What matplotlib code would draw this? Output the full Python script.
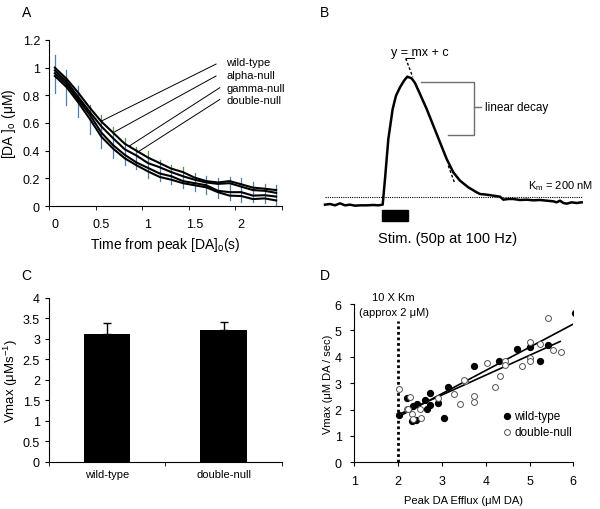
import numpy as np
import matplotlib
matplotlib.use("Agg")
import matplotlib.pyplot as plt
from matplotlib.patches import Rectangle

plt.rcParams['font.family'] = ['Liberation Sans', 'DejaVu Sans']
plt.rcParams['font.size'] = 9
plt.rcParams['mathtext.default'] = 'regular'

# ---- panel A: decay curves ----
time_a = np.arange(20) * 0.125
wild_type_a = [1.0, 0.92, 0.82, 0.71, 0.61, 0.53, 0.45, 0.40, 0.35, 0.31, 0.27, 0.245, 0.205, 0.18, 0.17, 0.18, 0.157, 0.133, 0.125, 0.115]
alpha_null_a = [0.98, 0.90, 0.79, 0.68, 0.575, 0.49, 0.41, 0.365, 0.31, 0.28, 0.245, 0.215, 0.19, 0.17, 0.16, 0.165, 0.14, 0.115, 0.11, 0.095]
gamma_null_a = [0.96, 0.88, 0.77, 0.66, 0.53, 0.44, 0.37, 0.315, 0.275, 0.235, 0.215, 0.18, 0.165, 0.15, 0.11, 0.10, 0.10, 0.075, 0.078, 0.068]
double_null_a = [0.94, 0.86, 0.75, 0.63, 0.50, 0.415, 0.345, 0.295, 0.25, 0.21, 0.19, 0.165, 0.15, 0.135, 0.10, 0.075, 0.072, 0.05, 0.055, 0.04]
err_hi_a = [1.09, 0.98, 0.87, 0.73, 0.66, 0.57, 0.49, 0.43, 0.40, 0.33, 0.30, 0.28, 0.24, 0.22, 0.20, 0.21, 0.20, 0.17, 0.16, 0.15]
err_lo_a = [0.82, 0.73, 0.64, 0.52, 0.42, 0.35, 0.30, 0.27, 0.20, 0.18, 0.16, 0.13, 0.11, 0.09, 0.06, 0.04, 0.03, 0.03, 0.02, 0.0]
names_a = ["wild-type", "alpha-null", "gamma-null", "double-null"]
label_xy_a = [(1.84, 1.043), (1.84, 0.947), (1.84, 0.85), (1.84, 0.766)]
leader_from_a = [(1.73, 1.026), (1.73, 0.94), (1.77, 0.855), (1.77, 0.77)]
leader_to_a = [(0.5, 0.614), (0.625, 0.53), (0.80, 0.434), (0.89, 0.39)]

# ---- panel B: schematic trace ----
trace_x = np.array([75, 90, 105, 120, 135, 150, 165, 180, 200, 220, 235, 248, 255, 265, 278, 288, 300, 312, 322, 335,
                    345, 360, 380, 400, 420, 440, 460, 480, 505, 530, 540, 560, 580, 600, 610, 625, 640, 660, 680, 700,
                    720, 740, 760, 770, 780, 790, 800, 815, 830, 845]) / 3 + 300
trace_y = np.array([617, 615, 619, 613, 619, 617, 620, 619, 619, 618, 619, 617, 540, 420, 330, 290, 265, 245, 233, 238,
                    252, 285, 330, 380, 430, 480, 520, 545, 565, 580, 585, 587, 590, 593, 602, 600, 600, 603, 602, 604,
                    603, 605, 607, 610, 605, 612, 614, 610, 612, 610]) / 3
km_level = 197.7
fit_x = [405.7, 455.0]
fit_y = [59.3, 185.0]

# ---- panel C: bars ----
groups_c = ["wild-type", "double-null"]
vmax_c = [3.12, 3.22]
vmax_err_c = [0.26, 0.2]

# ---- panel D: scatter ----
wt_x = [2.02, 2.21, 2.33, 2.43, 2.31, 2.62, 2.73, 2.73, 2.67, 2.92, 3.13, 3.04, 2.40,
        3.73, 4.31, 4.72, 5.02, 5.24, 5.43, 6.03]
wt_y = [1.80, 2.45, 2.14, 2.20, 1.55, 2.37, 2.61, 2.17, 2.02, 2.23, 2.86, 1.68, 1.62,
        3.64, 3.83, 4.29, 4.36, 3.83, 4.45, 5.66]
dn_x = [2.03, 2.28, 2.20, 2.31, 2.35, 2.53, 2.50, 2.90, 3.27, 3.42, 3.53, 3.51, 4.02, 4.43, 4.43,
        4.32, 4.22, 3.73, 3.73, 4.83, 5.02, 5.02, 5.02, 5.23, 5.43, 5.53, 5.71, 2.22]
dn_y = [2.78, 2.49, 2.02, 1.83, 1.64, 1.69, 2.02, 2.45, 2.59, 2.20, 3.09, 3.12, 3.76, 3.84, 3.69,
        3.27, 2.86, 2.50, 2.30, 3.64, 4.57, 3.95, 3.83, 4.50, 5.47, 4.26, 4.17, 2.02]
wt_fit_x = [2.0, 6.0]
wt_fit_y = [1.72, 5.24]
dn_fit_x = [2.0, 5.7]
dn_fit_y = [1.80, 4.58]

fig = plt.figure(figsize=(6, 5.1), dpi=100)

# A
axA = fig.add_axes([49 / 600, 1 - 207 / 510, 233 / 600, 166 / 510])
top_a = np.max([wild_type_a, alpha_null_a], axis=0)
for i, t in enumerate(time_a):
    axA.plot([t, t], [err_lo_a[i], top_a[i]], color='#4f7fab', lw=0.9)
    c_up = '#5e9447' if 3 <= i <= 11 else '#4f7fab'
    axA.plot([t, t], [top_a[i], err_hi_a[i]], color=c_up, lw=0.9)
for ys in [wild_type_a, alpha_null_a, gamma_null_a, double_null_a]:
    axA.plot(time_a, ys, color='black', lw=1.5)
for name, (tx, ty), p0, p1 in zip(names_a, label_xy_a, leader_from_a, leader_to_a):
    axA.plot([p0[0], p1[0]], [p0[1], p1[1]], color='black', lw=0.7)
    axA.text(tx, ty, name, ha='left', va='center', fontsize=8)
axA.set_xlim(-0.0625, 2.4375)
axA.set_ylim(0, 1.2)
axA.set_xticks([0, 0.5, 1, 1.5, 2])
axA.set_xticklabels(["0", "0.5", "1", "1.5", "2"])
axA.set_xticks(np.arange(-0.0625, 2.5, 0.5), minor=True)
axA.tick_params(axis='x', which='major', length=0, pad=9)
axA.tick_params(axis='x', which='minor', length=3, direction='out')
axA.set_yticks(np.arange(0, 1.21, 0.2))
axA.set_yticklabels(["0", "0.2", "0.4", "0.6", "0.8", "1", "1.2"])
axA.tick_params(axis='y', length=3, direction='out')
axA.spines[['top', 'right']].set_visible(False)
axA.set_ylabel("[DA ]$_o$ (\u03bcM)", fontsize=10, labelpad=3)
axA.set_xlabel("Time from peak [DA]$_o$(s)", fontsize=10, labelpad=3)

# B
axB = fig.add_axes([0.5, 1 - 260 / 510, 0.5, 260 / 510])
axB.set_xlim(300, 600)
axB.set_ylim(260, 0)
axB.axis('off')
axB.plot(trace_x, trace_y, color='black', lw=1.8)
axB.plot([325, 582], [km_level, km_level], color='black', lw=0.8, ls=(0, (1, 1)))
axB.plot([fit_x[0], 412.7], [fit_y[0], 78], color='black', lw=1, ls=(0, (2, 1.5)))
axB.plot([448.3, fit_x[1]], [166.7, fit_y[1]], color='black', lw=1, ls=(0, (2, 1.5)))
axB.plot([420.7, 474.3, 474.3, 448.3], [83.3, 83.3, 136, 136], color='#707070', lw=1)
axB.plot([474.3, 481], [107.7, 107.7], color='#707070', lw=1)
axB.text(485, 108, "linear decay", ha='left', va='center', fontsize=8.5)
axB.text(420, 53, "y = mx + c", ha='center', va='center', fontsize=9)
axB.plot([406, 413.5], [58.8, 58.8], color='black', lw=0.7)
axB.text(527.7, 186.5, "K$_m$ = 200 nM", ha='left', va='center', fontsize=8)
axB.add_patch(Rectangle((381.7, 211), 26.6, 11.3, color='black'))
axB.text(448, 239, "Stim. (50p at 100 Hz)", ha='center', va='center', fontsize=10.5)

# C
axC = fig.add_axes([49 / 600, 1 - 462.7 / 510, 232.7 / 600, 163.7 / 510])
xc = np.arange(len(groups_c))
axC.bar(xc, vmax_c, width=0.4, color='black')
axC.errorbar(xc, vmax_c, yerr=[[0, 0], vmax_err_c], fmt='none', ecolor='black', elinewidth=1, capsize=2.8)
axC.set_xlim(-0.5, 1.5)
axC.set_ylim(0, 4)
axC.set_xticks(xc)
axC.set_xticklabels(groups_c, fontsize=8)
axC.set_xticks([-0.5, 0.5, 1.5], minor=True)
axC.tick_params(axis='x', which='major', length=0, pad=5)
axC.tick_params(axis='x', which='minor', length=3, direction='out')
axC.set_yticks(np.arange(0, 4.01, 0.5))
axC.set_yticklabels(["0", "0.5", "1", "1.5", "2", "2.5", "3", "3.5", "4"])
axC.tick_params(axis='y', length=3, direction='out')
axC.spines[['top', 'right']].set_visible(False)
axC.set_ylabel("Vmax (\u03bcMs$^{-1}$)", fontsize=9.5, labelpad=2)

# D
axD = fig.add_axes([354.3 / 600, 1 - 463.3 / 510, 219 / 600, 158.3 / 510])
axD.plot([2, 2], [0, 5.35], color='black', lw=2, ls=(0, (1, 1)))
axD.plot(wt_fit_x, wt_fit_y, color='black', lw=1.2)
axD.plot(dn_fit_x, dn_fit_y, color='black', lw=1.2)
axD.scatter(wt_x, wt_y, s=18, color='black', zorder=3, label="wild-type")
axD.scatter(dn_x, dn_y, s=18, facecolor='white', edgecolor='#555555', linewidth=0.7, zorder=3, label="double-null")
axD.text(1.9, 6.25, "10 X Km", ha='center', va='center', fontsize=8)
axD.text(1.9, 5.7, "(approx 2 \u03bcM)", ha='center', va='center', fontsize=8)
axD.legend(loc='upper left', bbox_to_anchor=(0.655, 0.37), frameon=False, handlelength=0.6,
           handletextpad=0.3, borderpad=0, labelspacing=0.4, fontsize=8.5)
axD.set_xlim(1, 6)
axD.set_ylim(0, 6)
axD.set_xticks(range(1, 7))
axD.set_yticks(range(0, 7))
axD.tick_params(length=3, direction='out', labelsize=9, pad=6)
axD.spines[['top', 'right']].set_visible(False)
axD.set_ylabel("Vmax (\u03bcM DA / sec)", fontsize=8, labelpad=1)
axD.set_xlabel("Peak DA Efflux (\u03bcM DA)", fontsize=8, labelpad=6)

fig.text(27 / 600, 1 - 13 / 510, "A", ha='center', va='center', fontsize=10)
fig.text(324.5 / 600, 1 - 13 / 510, "B", ha='center', va='center', fontsize=10)
fig.text(26 / 600, 1 - 276 / 510, "C", ha='center', va='center', fontsize=10)
fig.text(325 / 600, 1 - 276 / 510, "D", ha='center', va='center', fontsize=10)

fig.savefig("out.png", dpi=100)
